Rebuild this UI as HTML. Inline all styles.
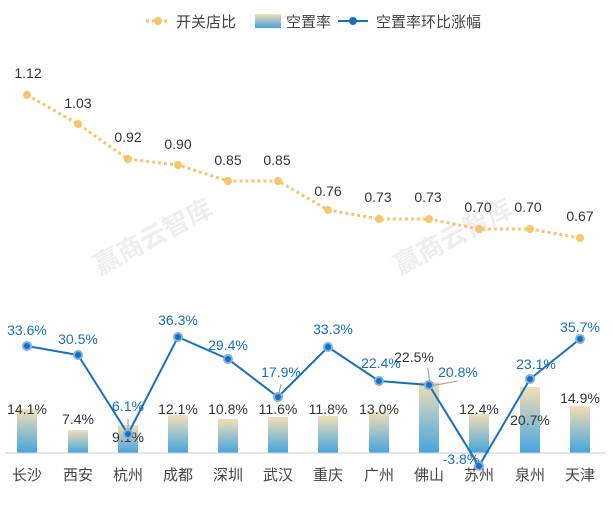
<!DOCTYPE html>
<html><head><meta charset="utf-8"><style>
body{margin:0;background:#fff;}
svg{display:block;font-family:"Liberation Sans","Noto Sans CJK SC",sans-serif;}
</style></head><body>
<svg width="613" height="511" viewBox="0 0 613 511" xmlns="http://www.w3.org/2000/svg">
<defs>
<linearGradient id="g" x1="0" y1="0" x2="0" y2="1">
<stop offset="0" stop-color="#f3dfb6"/><stop offset="1" stop-color="#45a5de"/>
</linearGradient>
</defs>
<!-- legend -->
<line x1="146" y1="21" x2="170" y2="21" stroke="#f9c46b" stroke-width="3" stroke-dasharray="3,3"/>
<circle cx="158" cy="21" r="4" fill="#f9c46b"/>
<text x="176" y="27" font-size="15" fill="#444">开关店比</text>
<rect x="255" y="14" width="26" height="14" fill="url(#g)"/>
<text x="286" y="27" font-size="15" fill="#444">空置率</text>
<line x1="338" y1="21" x2="368" y2="21" stroke="#1670c0" stroke-width="2"/>
<circle cx="353" cy="21" r="4" fill="#1670c0"/>
<text x="376" y="27" font-size="15" fill="#444">空置率环比涨幅</text>
<!-- watermark -->
<g fill="#eee" font-size="26" font-weight="bold">
<text transform="translate(100,275) rotate(-28)">赢商云智库</text>
<text transform="translate(400,275) rotate(-28)">赢商云智库</text>
</g>
<!-- bars -->
<g fill="url(#g)">
<rect x="17" y="409" width="20" height="44"/>
<rect x="68" y="430" width="20" height="23"/>
<rect x="118" y="425" width="20" height="28"/>
<rect x="168" y="415" width="20" height="38"/>
<rect x="218" y="419" width="20" height="34"/>
<rect x="268" y="417" width="20" height="36"/>
<rect x="318" y="416" width="20" height="37"/>
<rect x="369" y="412" width="20" height="41"/>
<rect x="419" y="382" width="20" height="71"/>
<rect x="469" y="414" width="20" height="39"/>
<rect x="520" y="387" width="20" height="66"/>
<rect x="570" y="406" width="20" height="47"/>
</g>
<line x1="5" y1="453" x2="606" y2="453" stroke="#ccc" stroke-width="1"/>
<g font-size="14" fill="#333">
<text x="27" y="414" text-anchor="middle">14.1%</text>
<text x="78" y="424" text-anchor="middle">7.4%</text>
<text x="128" y="442" text-anchor="middle">9.1%</text>
<text x="178" y="414" text-anchor="middle">12.1%</text>
<text x="228" y="414" text-anchor="middle">10.8%</text>
<text x="278" y="414" text-anchor="middle">11.6%</text>
<text x="328" y="414" text-anchor="middle">11.8%</text>
<text x="379" y="414" text-anchor="middle">13.0%</text>
<text x="414" y="362" text-anchor="middle">22.5%</text>
<text x="479" y="414" text-anchor="middle">12.4%</text>
<text x="530" y="425" text-anchor="middle">20.7%</text>
<text x="580" y="403" text-anchor="middle">14.9%</text>
</g>
<!-- categories -->
<g font-size="15" fill="#444" text-anchor="middle">
<text x="27" y="480">长沙</text><text x="78" y="480">西安</text><text x="128" y="480">杭州</text>
<text x="178" y="480">成都</text><text x="228" y="480">深圳</text><text x="278" y="480">武汉</text>
<text x="328" y="480">重庆</text><text x="379" y="480">广州</text><text x="429" y="480">佛山</text>
<text x="479" y="480">苏州</text><text x="530" y="480">泉州</text><text x="580" y="480">天津</text>
</g>
<!-- leader lines -->
<g stroke="#999" stroke-width="1">
<line x1="128" y1="419" x2="128" y2="433"/>
<line x1="178" y1="332" x2="178" y2="337"/>
<line x1="281" y1="384" x2="278" y2="397"/>
<line x1="428" y1="368" x2="430" y2="386"/>
<line x1="430" y1="386" x2="458" y2="381"/>
</g>
<!-- blue line -->
<polyline fill="none" stroke="#1670c0" stroke-width="2" points="27,346 78,355 128,434 178,337 228,359 278,397 328,347 379,381 429,385 479,466 530,379 580,339"/>
<g fill="#1670c0" stroke="#7fb0e0" stroke-width="2">
<circle cx="27" cy="346" r="4"/><circle cx="78" cy="355" r="4"/><circle cx="128" cy="434" r="4"/>
<circle cx="178" cy="337" r="4"/><circle cx="228" cy="359" r="4"/><circle cx="278" cy="397" r="4"/>
<circle cx="328" cy="347" r="4"/><circle cx="379" cy="381" r="4"/><circle cx="429" cy="385" r="4"/>
<circle cx="479" cy="466" r="4"/><circle cx="530" cy="379" r="4"/><circle cx="580" cy="339" r="4"/>
</g>
<g font-size="14" fill="#1670c0" text-anchor="middle">
<text x="27" y="335">33.6%</text><text x="78" y="344">30.5%</text><text x="128" y="411">6.1%</text>
<text x="178" y="325">36.3%</text><text x="228" y="350">29.4%</text><text x="281" y="377">17.9%</text>
<text x="333" y="334">33.3%</text><text x="381" y="368">22.4%</text><text x="458" y="377">20.8%</text>
<text x="461" y="464">-3.8%</text><text x="536" y="369">23.1%</text><text x="580" y="332">35.7%</text>
</g>
<!-- top dotted line -->
<polyline fill="none" stroke="#f9c46b" stroke-width="3" stroke-dasharray="3,3" points="27,95 78,124 128,159 178,165 228,181 278,181 328,210 379,219 429,219 479,229 530,229 580,238"/>
<g fill="#f9c46b">
<circle cx="27" cy="95" r="4"/><circle cx="78" cy="124" r="4"/><circle cx="128" cy="159" r="4"/>
<circle cx="178" cy="165" r="4"/><circle cx="228" cy="181" r="4"/><circle cx="278" cy="181" r="4"/>
<circle cx="328" cy="210" r="4"/><circle cx="379" cy="219" r="4"/><circle cx="429" cy="219" r="4"/>
<circle cx="479" cy="229" r="4"/><circle cx="530" cy="229" r="4"/><circle cx="580" cy="238" r="4"/>
</g>
<g font-size="14" fill="#333" text-anchor="middle">
<text x="28" y="78">1.12</text><text x="78" y="108">1.03</text><text x="128" y="142">0.92</text>
<text x="178" y="149">0.90</text><text x="228" y="165">0.85</text><text x="277" y="165">0.85</text>
<text x="328" y="196">0.76</text><text x="378" y="202">0.73</text><text x="428" y="202">0.73</text>
<text x="478" y="212">0.70</text><text x="528" y="212">0.70</text><text x="580" y="221">0.67</text>
</g>
</svg>
</body></html>
